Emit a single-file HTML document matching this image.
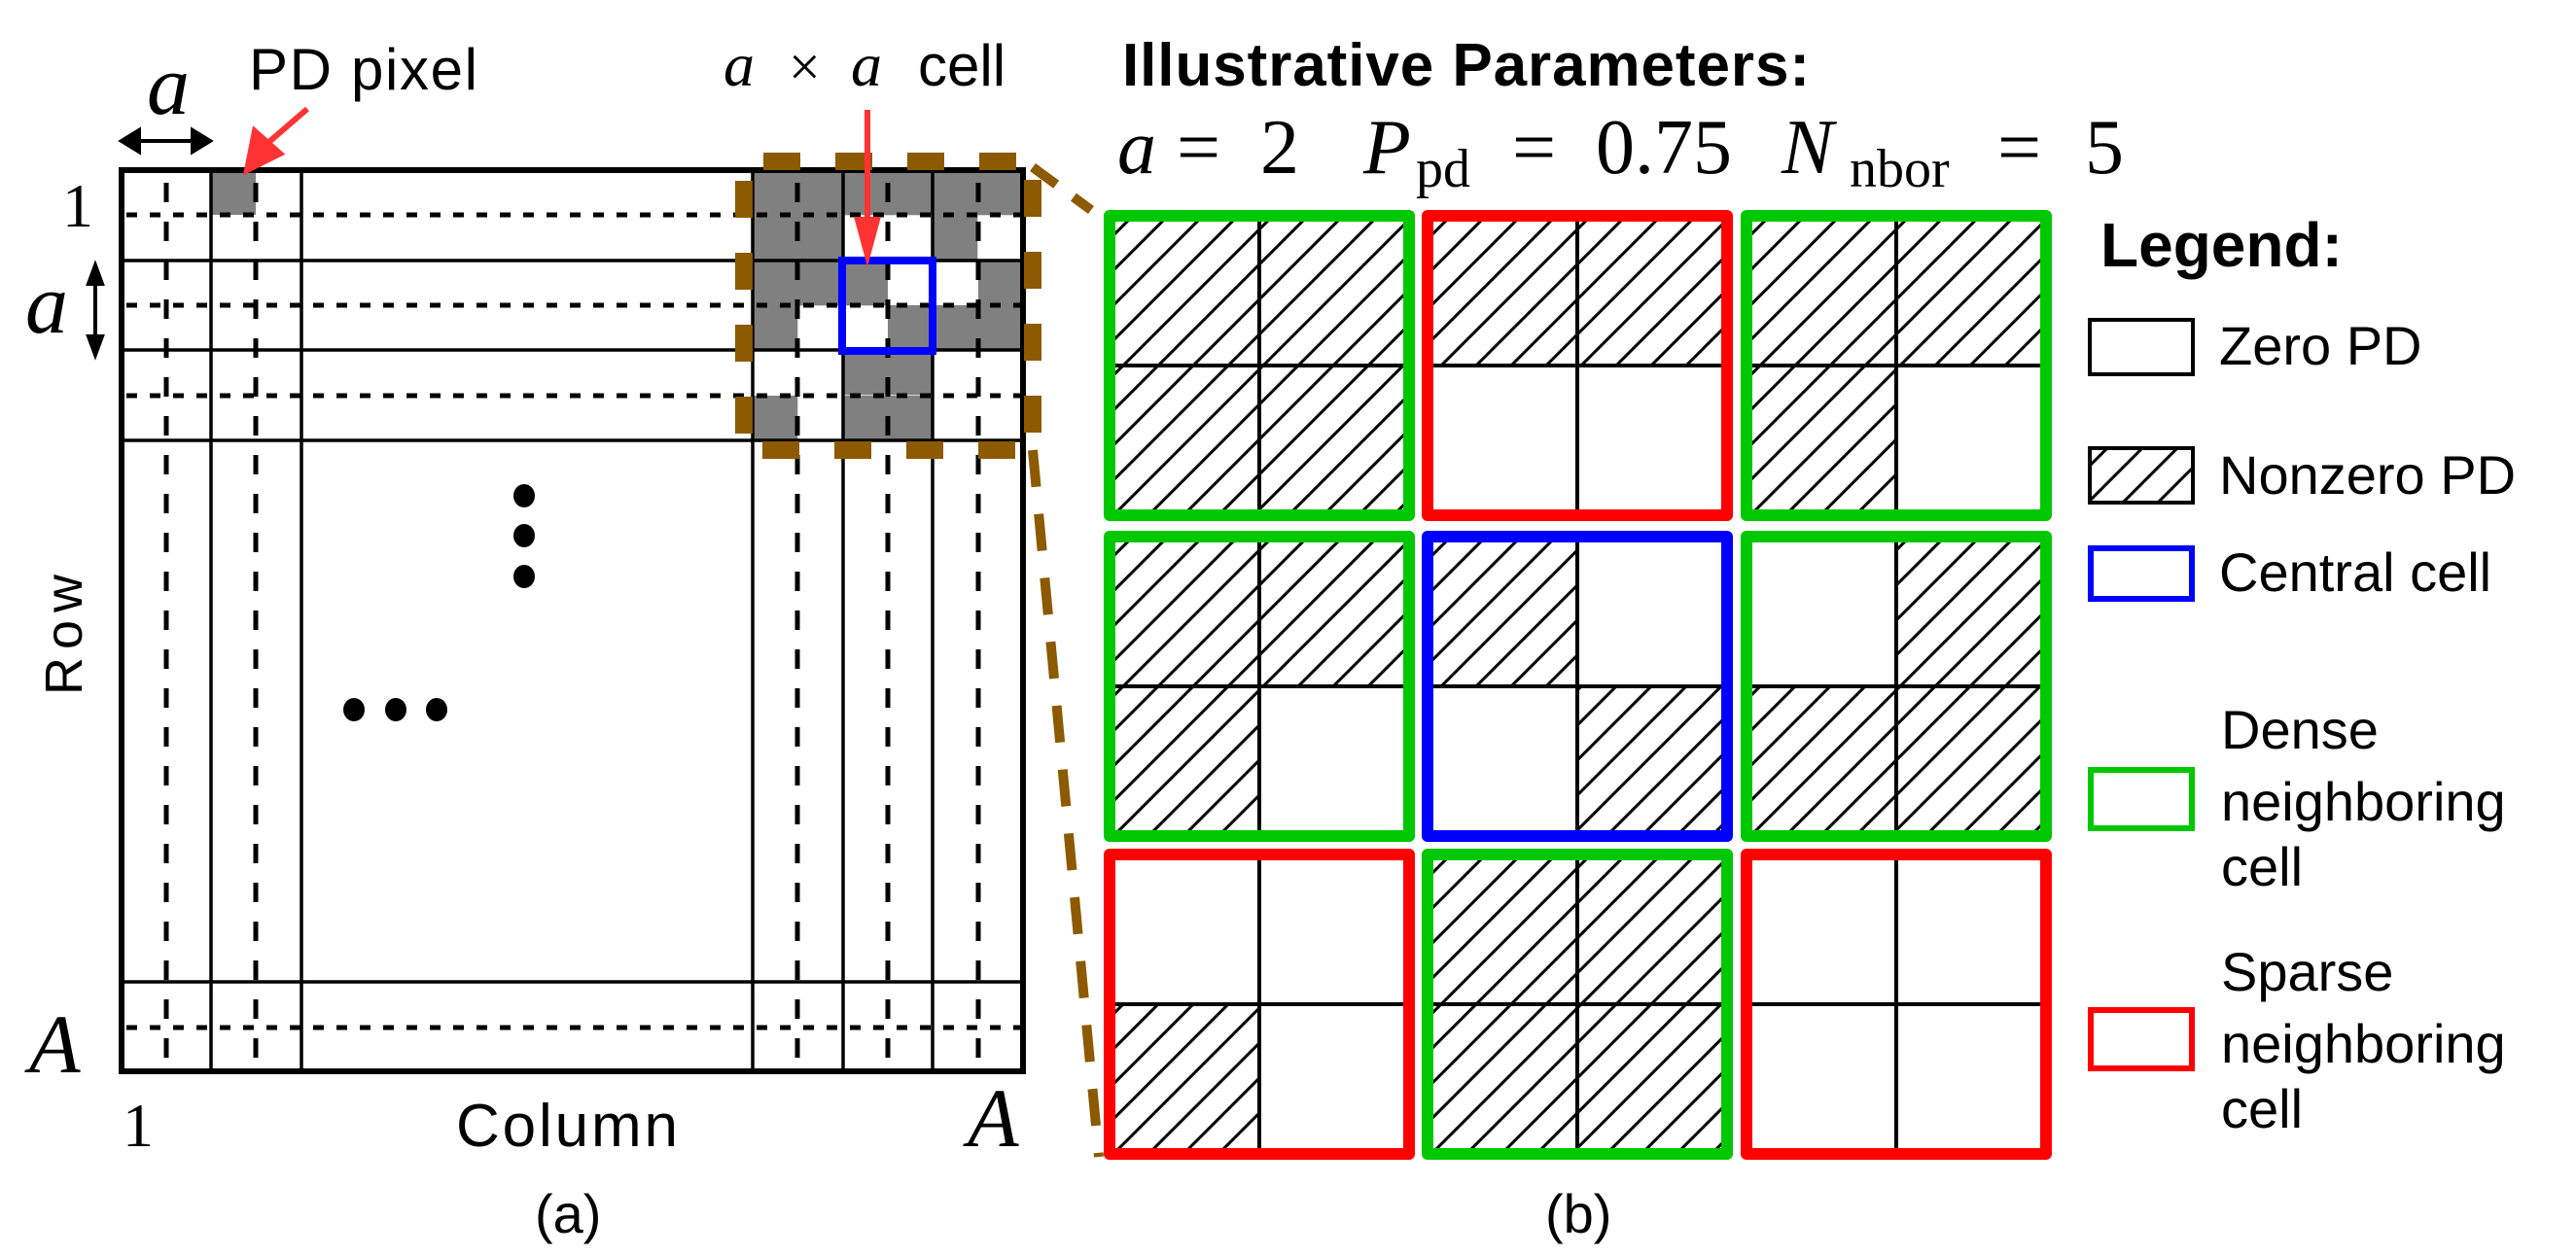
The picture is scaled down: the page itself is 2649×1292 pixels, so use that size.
<!DOCTYPE html>
<html><head><meta charset="utf-8"><style>
html,body{margin:0;padding:0;background:#fff;}
svg{display:block;}
.s{font-family:"Liberation Sans",sans-serif;}
.m{font-family:"Liberation Serif",serif;font-style:italic;}
.r{font-family:"Liberation Serif",serif;}
</style></head><body>
<svg width="2649" height="1292" viewBox="0 0 2649 1292" xmlns="http://www.w3.org/2000/svg">
<defs>
<pattern id="h" patternUnits="userSpaceOnUse" width="36" height="36">
<path d="M-9,45 L45,-9 M-27,27 L27,-27 M9,63 L63,9" stroke="#000" stroke-width="3"/>
</pattern>
</defs>

<rect x="217" y="175" width="46" height="46" fill="#808080"/>
<g fill="#808080">
<rect x="774" y="175" width="278" height="46.3"/>
<rect x="774" y="221" width="92.7" height="46.3"/>
<rect x="959" y="221" width="46.3" height="46.3"/>
<rect x="774" y="268" width="139" height="46.3"/>
<rect x="1006" y="268" width="46.3" height="46.3"/>
<rect x="774" y="314" width="46.3" height="46.3"/>
<rect x="913" y="314" width="139" height="46.3"/>
<rect x="867" y="360" width="92.7" height="46.3"/>
<rect x="774" y="407" width="46.3" height="46.3"/>
<rect x="867" y="407" width="92.7" height="46.3"/>
</g>

<g stroke="#000" fill="none">
<g stroke-width="3.5">
<line x1="125" y1="268" x2="1052" y2="268"/>
<line x1="125" y1="360" x2="1052" y2="360"/>
<line x1="125" y1="453" x2="1052" y2="453"/>
<line x1="125" y1="1010" x2="1052" y2="1010"/>
<line x1="217" y1="175" x2="217" y2="1102"/>
<line x1="310" y1="175" x2="310" y2="1102"/>
<line x1="774" y1="175" x2="774" y2="1102"/>
<line x1="867" y1="175" x2="867" y2="1102"/>
<line x1="959" y1="175" x2="959" y2="1102"/>
</g>
<g stroke-width="5" stroke-dasharray="11,13">
<line x1="130" y1="221" x2="1052" y2="221"/>
<line x1="130" y1="314" x2="1052" y2="314"/>
<line x1="130" y1="407" x2="1052" y2="407"/>
<line x1="130" y1="1057" x2="1052" y2="1057"/>
</g>
<g stroke-width="5" stroke-dasharray="20,20">
<line x1="171" y1="188" x2="171" y2="1102"/>
<line x1="263" y1="188" x2="263" y2="1102"/>
<line x1="820" y1="188" x2="820" y2="1102"/>
<line x1="913" y1="188" x2="913" y2="1102"/>
<line x1="1006" y1="188" x2="1006" y2="1102"/>
</g>
<rect x="125" y="175" width="927" height="927" stroke-width="6"/>
</g>

<rect x="866" y="268" width="93" height="93" fill="none" stroke="#0000ff" stroke-width="8"/>

<rect x="765" y="166" width="297" height="297" fill="none" stroke="#8c5a00" stroke-width="18" stroke-dasharray="38,36" stroke-dashoffset="-20"/>
<line x1="1062" y1="172" x2="1122" y2="216" stroke="#8c5a00" stroke-width="10" stroke-dasharray="30,22"/>
<line x1="1062" y1="463" x2="1130" y2="1190" stroke="#8c5a00" stroke-width="10" stroke-dasharray="38,28"/>

<g fill="#000">
<ellipse cx="539" cy="510" rx="11" ry="12"/>
<ellipse cx="539" cy="551" rx="11" ry="12"/>
<ellipse cx="539" cy="593" rx="11" ry="12"/>
<ellipse cx="364" cy="730" rx="11" ry="12"/>
<ellipse cx="407" cy="730" rx="11" ry="12"/>
<ellipse cx="449" cy="730" rx="11" ry="12"/>
</g>

<g stroke="#000" stroke-width="4" fill="#000">
<line x1="140" y1="145" x2="201" y2="145"/>
<path d="M125,145 L143,134 L143,156 z"/>
<path d="M216,145 L198,134 L198,156 z"/>
<line x1="98" y1="288" x2="98" y2="350"/>
<path d="M98,273 L91,292 L105,292 z"/>
<path d="M98,365 L91,346 L105,346 z"/>
</g>
<g stroke="#ff3333" stroke-width="6" fill="#ff3333">
<line x1="316" y1="112" x2="272" y2="150"/>
<path d="M254,175 L262,135 L288,158 z"/>
<line x1="892" y1="113" x2="892" y2="232"/>
<path d="M892,263 L882,226 L902,226 z"/>
</g>

<text x="256" y="92" class="s" font-size="60" textLength="235">PD pixel</text>
<text x="151" y="117" class="m" font-size="88">a</text>
<text x="64" y="233" class="r" font-size="64">1</text>
<text x="26" y="342" class="m" font-size="88">a</text>
<text x="744" y="88" class="m" font-size="64">a</text>
<text x="811" y="88" class="r" font-size="58">×</text>
<text x="875" y="88" class="m" font-size="64">a</text>
<text x="944" y="88" class="s" font-size="60">cell</text>
<text x="30" y="1103" class="m" font-size="86">A</text>
<text x="126" y="1179" class="r" font-size="64">1</text>
<text x="469" y="1179" class="s" font-size="62" textLength="228">Column</text>
<text x="995" y="1179" class="m" font-size="86">A</text>
<text x="550" y="1268" class="s" font-size="56">(a)</text>
<text transform="translate(84,715) rotate(-90)" class="s" font-size="54" textLength="124">Row</text>

<text x="1154" y="88" class="s" font-size="62" font-weight="bold" textLength="707">Illustrative Parameters:</text>
<g font-size="80">
<text x="1149" y="178" class="m">a</text>
<text x="1210" y="178" class="r">=</text>
<text x="1296" y="178" class="r">2</text>
<text x="1402" y="178" class="m">P</text>
<text x="1456" y="192" class="r" font-size="56">pd</text>
<text x="1555" y="178" class="r">=</text>
<text x="1641" y="178" class="r">0.75</text>
<text x="1832" y="178" class="m">N</text>
<text x="1902" y="192" class="r" font-size="56">nbor</text>
<text x="2054" y="178" class="r">=</text>
<text x="2144" y="178" class="r">5</text>
</g>

<g transform="translate(1135,216)"><rect x="11" y="11" width="298" height="298" fill="url(#h)"/></g>
<g transform="translate(1462,216)"><rect x="11" y="11" width="298" height="149" fill="url(#h)"/></g>
<g transform="translate(1790,216)"><rect x="11" y="11" width="298" height="149" fill="url(#h)"/><rect x="11" y="160" width="149" height="149" fill="url(#h)"/></g>
<g transform="translate(1135,546)"><rect x="11" y="11" width="298" height="149" fill="url(#h)"/><rect x="11" y="160" width="149" height="149" fill="url(#h)"/></g>
<g transform="translate(1462,546)"><rect x="11" y="11" width="149" height="149" fill="url(#h)"/><rect x="160" y="160" width="149" height="149" fill="url(#h)"/></g>
<g transform="translate(1790,546)"><rect x="160" y="11" width="149" height="149" fill="url(#h)"/><rect x="11" y="160" width="298" height="149" fill="url(#h)"/></g>
<g transform="translate(1135,873)"><rect x="11" y="160" width="149" height="149" fill="url(#h)"/></g>
<g transform="translate(1462,873)"><rect x="11" y="11" width="298" height="298" fill="url(#h)"/></g>

<g stroke="#000" stroke-width="4">
<path d="M1295,216 V536 M1135,376 H1455 M1622,216 V536 M1462,376 H1782 M1950,216 V536 M1790,376 H2110
M1295,546 V866 M1135,706 H1455 M1622,546 V866 M1462,706 H1782 M1950,546 V866 M1790,706 H2110
M1295,873 V1193 M1135,1033 H1455 M1622,873 V1193 M1462,1033 H1782 M1950,873 V1193 M1790,1033 H2110"/>
</g>

<g fill="none" stroke-width="12" stroke-linejoin="round">
<rect x="1141" y="222" width="308" height="308" stroke="#00c800"/>
<rect x="1468" y="222" width="308" height="308" stroke="#ff0000"/>
<rect x="1796" y="222" width="308" height="308" stroke="#00c800"/>
<rect x="1141" y="552" width="308" height="308" stroke="#00c800"/>
<rect x="1468" y="552" width="308" height="308" stroke="#0000ff"/>
<rect x="1796" y="552" width="308" height="308" stroke="#00c800"/>
<rect x="1141" y="879" width="308" height="308" stroke="#ff0000"/>
<rect x="1468" y="879" width="308" height="308" stroke="#00c800"/>
<rect x="1796" y="879" width="308" height="308" stroke="#ff0000"/>
</g>

<text x="2160" y="274" class="s" font-size="64" font-weight="bold">Legend:</text>
<rect x="2149" y="329" width="106" height="56" fill="#fff" stroke="#000" stroke-width="4"/>
<rect x="2149" y="461" width="106" height="56" fill="url(#h)" stroke="#000" stroke-width="4"/>
<rect x="2150" y="564" width="104" height="52" fill="none" stroke="#0000ff" stroke-width="6"/>
<rect x="2150" y="792" width="104" height="60" fill="none" stroke="#00c800" stroke-width="6"/>
<rect x="2150" y="1039" width="104" height="60" fill="none" stroke="#ff0000" stroke-width="6"/>
<g class="s" font-size="56">
<text x="2282" y="375">Zero PD</text>
<text x="2282" y="508">Nonzero PD</text>
<text x="2282" y="608">Central cell</text>
<text x="2284" y="770">Dense</text>
<text x="2284" y="844">neighboring</text>
<text x="2284" y="911">cell</text>
<text x="2284" y="1019">Sparse</text>
<text x="2284" y="1093">neighboring</text>
<text x="2284" y="1160">cell</text>
</g>
<text x="1589" y="1268" class="s" font-size="56">(b)</text>
</svg>
</body></html>
